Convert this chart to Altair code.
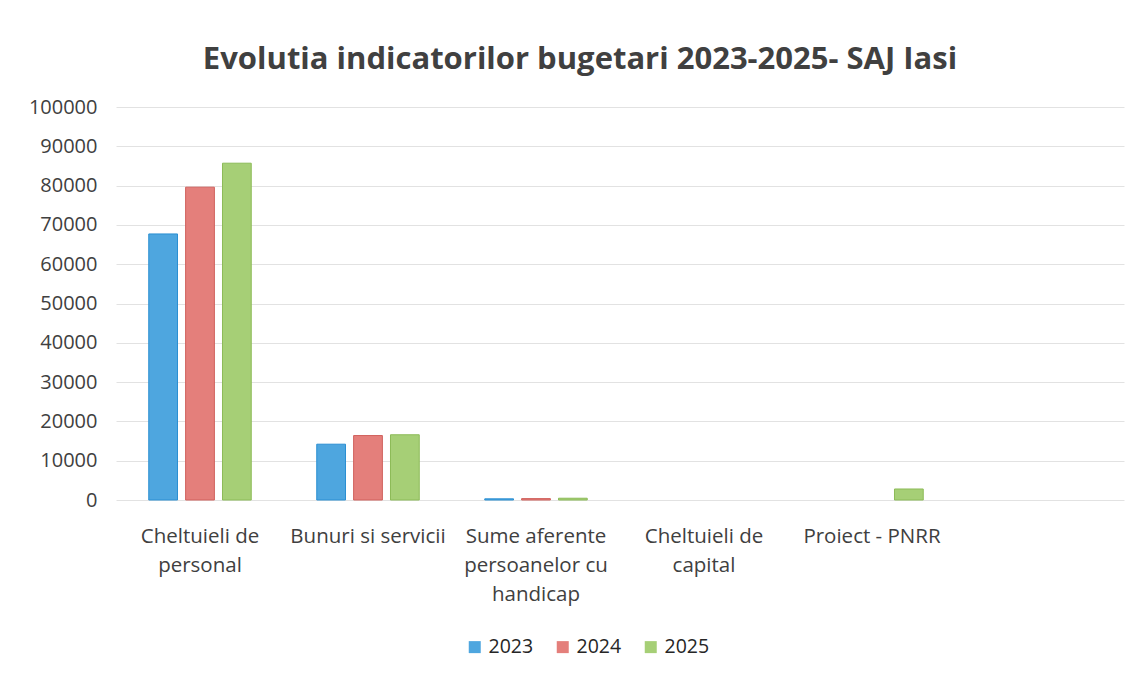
import altair as alt
import pandas as pd

categories = [
    "Cheltuieli de personal",
    "Bunuri si servicii",
    "Sume aferente persoanelor cu handicap",
    "Cheltuieli de capital",
    "Proiect - PNRR",
    " ",
]
label_lines = [
    ["Cheltuieli de", "personal"],
    ["Bunuri si servicii"],
    ["Sume aferente", "persoanelor cu", "handicap"],
    ["Cheltuieli de", "capital"],
    ["Proiect - PNRR"],
    [""],
]
years = ["2023", "2024", "2025"]
values_2023 = [67700, 14200, 300, 0, 0]
values_2024 = [79600, 16400, 350, 0, 0]
values_2025 = [85700, 16600, 450, 0, 2800]
colors = ["#4ea6df", "#e47f7b", "#a6cf76"]
strokes = ["#2b8fd2", "#d0605c", "#8cbb58"]

rows = []
for yr, vals in zip(years, [values_2023, values_2024, values_2025]):
    for cat, v in zip(categories, vals):
        if v > 0:
            rows.append({"cat": cat, "year": yr, "value": v})
df = pd.DataFrame(rows)

# build label expression (multi-line labels)
expr = "''"
for cat, lines in reversed(list(zip(categories, label_lines))):
    arr = "[" + ",".join("'" + l + "'" for l in lines) + "]"
    expr = f"datum.value == '{cat}' ? {arr} : ({expr})"

FONT = "Open Sans"
TXT = "#404040"

chart = (
    alt.Chart(df)
    .mark_bar(strokeWidth=1)
    .encode(
        x=alt.X(
            "cat:N",
            sort=categories,
            scale=alt.Scale(domain=categories, paddingInner=0.39, paddingOuter=0.195),
            axis=alt.Axis(
                title=None,
                labelAngle=0,
                domain=False,
                ticks=False,
                grid=False,
                labelExpr=expr,
                labelFont=FONT,
                labelFontSize=20.5,
                labelColor=TXT,
                labelPadding=26,
                labelLineHeight=29,
                labelBaseline="top",
            ),
        ),
        xOffset=alt.XOffset(
            "year:N", scale=alt.Scale(domain=years, paddingInner=0.22, paddingOuter=0)
        ),
        y=alt.Y(
            "value:Q",
            scale=alt.Scale(domain=[0, 100000], nice=False),
            axis=alt.Axis(
                title=None,
                values=list(range(0, 100001, 10000)),
                format="d",
                domain=False,
                ticks=False,
                tickSize=0,
                labelFont=FONT,
                labelFontSize=20,
                labelColor=TXT,
                labelPadding=19,
                gridColor="#e2e2e2",
                gridWidth=1,
            ),
        ),
        color=alt.Color(
            "year:N",
            scale=alt.Scale(domain=years, range=colors),
            legend=alt.Legend(
                title=None,
                orient="none",
                direction="horizontal",
                legendX=349,
                legendY=530,
                symbolType="square",
                symbolSize=144,
                symbolStrokeWidth=0,
                symbolOpacity=1,
                labelFont=FONT,
                labelFontSize=19.5,
                labelColor="#262626",
                labelOffset=4,
                columnPadding=19,
                padding=0,
            ),
        ),
        stroke=alt.Stroke(
            "year:N", scale=alt.Scale(domain=years, range=strokes), legend=None
        ),
    )
    .properties(
        width=1008,
        height=393,
        background="white",
        autosize=alt.AutoSizeParams(type="none"),
        padding={"left": 108, "top": 99, "right": 9, "bottom": 160},
        title=alt.TitleParams(
            "Evolutia indicatorilor bugetari 2023-2025- SAJ Iasi",
            font=FONT,
            fontSize=31,
            fontWeight="bold",
            color=TXT,
            anchor="middle",
            dx=-40,
            offset=21,
        ),
    )
    .configure_view(strokeWidth=0, stroke="transparent")
)

chart.save("out.html", embed_options={"renderer": "svg", "actions": False})
